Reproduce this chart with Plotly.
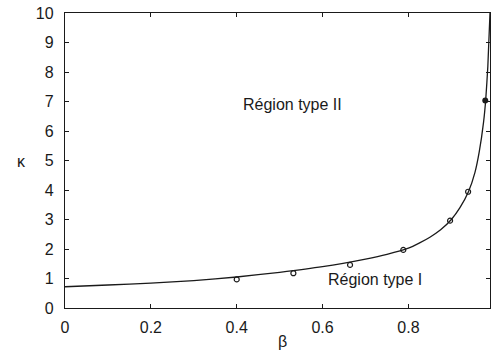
import plotly.graph_objects as go

# curve
beta_curve = [0, 0.1, 0.2, 0.3, 0.4, 0.5, 0.6, 0.7, 0.75, 0.8, 0.825, 0.85, 0.875, 0.9, 0.92, 0.94, 0.955, 0.965, 0.975, 0.98, 0.985, 0.99]
kappa_curve = [0.72, 0.78, 0.84, 0.93, 1.05, 1.21, 1.40, 1.66, 1.82, 2.03, 2.2, 2.40, 2.65, 3.0, 3.4, 3.95, 4.6, 5.3, 6.3, 7.05, 8.2, 10.0]

# open-circle data points
beta_pts = [0.40, 0.532, 0.664, 0.788, 0.897, 0.939]
kappa_pts = [0.97, 1.18, 1.46, 1.97, 2.96, 3.94]

# filled point
beta_fill = [0.979]
kappa_fill = [7.03]

x_ticks = [0, 0.2, 0.4, 0.6, 0.8]
x_labels = ["0", "0.2", "0.4", "0.6", "0.8"]
y_ticks = list(range(0, 11))

ink = "#1a1a1a"
font = "Liberation Sans, Arial, sans-serif"

W, H = 491, 364
l, r, t, b = 65, 1, 13, 56
pw, ph = W - l - r, H - t - b

fig = go.Figure()
fig.add_trace(go.Scatter(x=beta_curve, y=kappa_curve, mode="lines",
                         line=dict(color=ink, width=1.3, shape="spline", smoothing=0.5),
                         hoverinfo="skip", showlegend=False))
fig.add_trace(go.Scatter(x=beta_pts, y=kappa_pts, mode="markers",
                         marker=dict(symbol="circle-open", size=5, color=ink, line=dict(width=1.2)),
                         showlegend=False))
fig.add_trace(go.Scatter(x=beta_fill, y=kappa_fill, mode="markers",
                         marker=dict(symbol="circle", size=6, color=ink),
                         showlegend=False))

fig.update_layout(
    width=W, height=H,
    margin=dict(l=l, r=r, t=t, b=b),
    plot_bgcolor="white", paper_bgcolor="white",
    font=dict(family=font, size=16, color=ink),
    xaxis=dict(range=[0, 0.99], tickvals=x_ticks, ticktext=x_labels,
               showgrid=False, zeroline=False, showline=True, linecolor=ink, linewidth=1.3,
               mirror="ticks", ticks="inside", ticklen=4, tickcolor=ink,
               ticklabelstandoff=5, fixedrange=True),
    yaxis=dict(range=[0, 10], tickvals=y_ticks,
               showgrid=False, zeroline=False, showline=True, linecolor=ink, linewidth=1.3,
               mirror="ticks", ticks="inside", ticklen=4, tickcolor=ink,
               ticklabelstandoff=7, fixedrange=True),
    annotations=[
        dict(text="Région type II", x=0.529, y=6.9, xref="x", yref="y", showarrow=False,
             font=dict(family=font, size=16, color=ink)),
        dict(text="Région type I", x=0.7226, y=0.95, xref="x", yref="y", showarrow=False,
             font=dict(family=font, size=16, color=ink)),
        dict(text="κ", x=(15 - l) / pw, y=(H - 161 - b) / ph, xref="paper", yref="paper",
             showarrow=False, font=dict(family=font, size=16, color=ink)),
        dict(text="β", x=(282 - l) / pw, y=(H - 352 - b) / ph, xref="paper", yref="paper",
             showarrow=False, font=dict(family=font, size=16, color=ink)),
    ],
)

fig.write_html("out.html")
